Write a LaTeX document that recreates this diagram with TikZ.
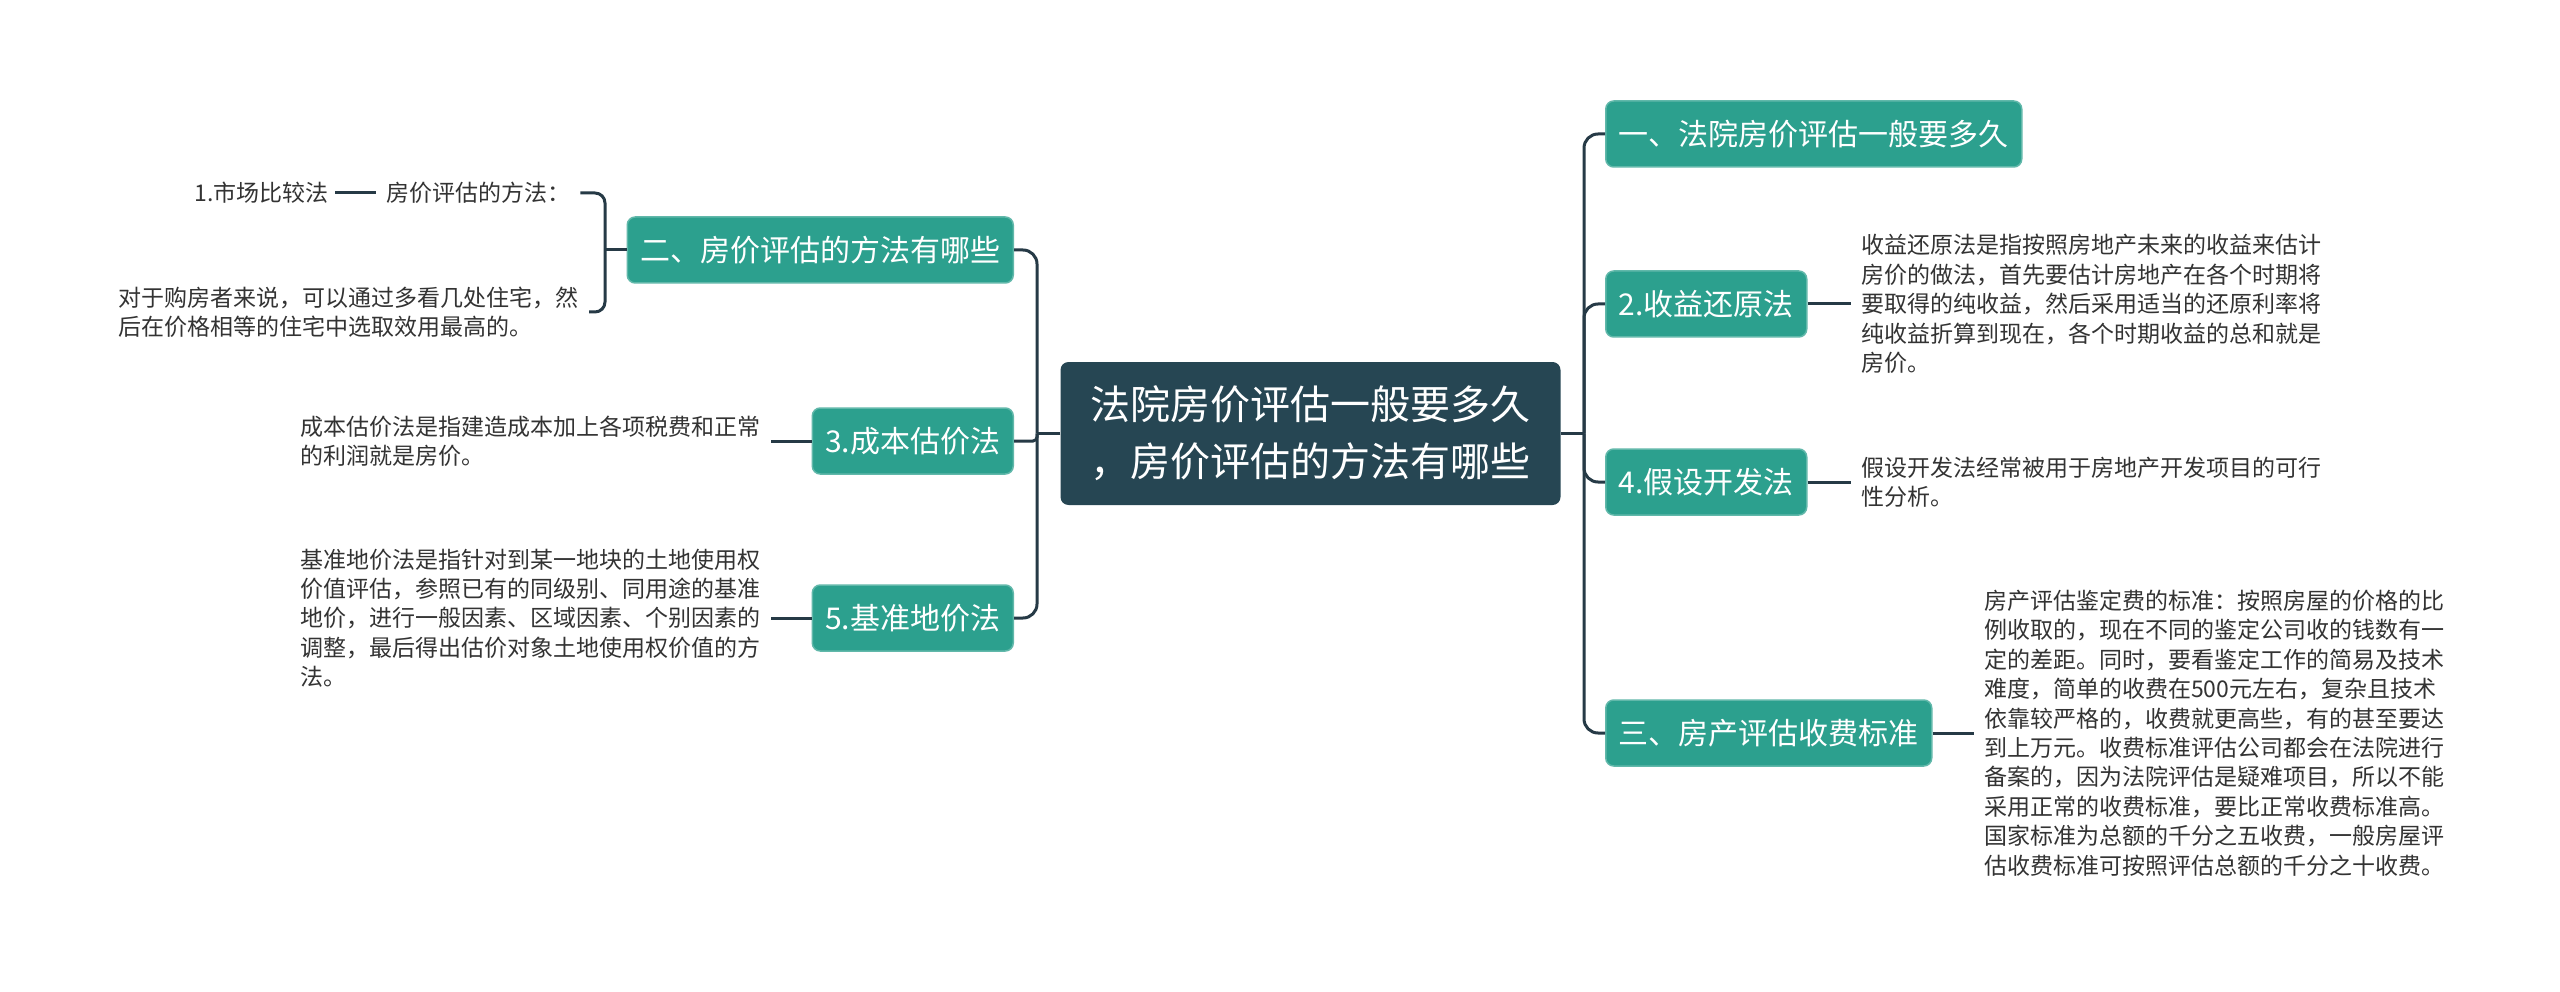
\documentclass[tikz,border=0pt]{standalone}
\usepackage{fontspec}
\usepackage{tikz}
\usetikzlibrary{calc}
\newfontfamily\cjk{Noto Sans CJK SC}
\definecolor{rootfill}{RGB}{38,70,83}
\definecolor{topicteal}{RGB}{44,160,142}
\definecolor{linkdark}{RGB}{38,58,70}
\definecolor{notegray}{RGB}{51,51,51}

\begin{document}
\begin{tikzpicture}[x=1pt,y=-1pt,
    root/.style={fill=rootfill,rounded corners=8pt,text=white,align=center,
      inner xsep=30pt,minimum height=143pt,font=\cjk\fontsize{40}{57}\selectfont},
    topic/.style={fill=topicteal,draw=topicteal!75!white,line width=1.5pt,
      rounded corners=8pt,text=white,inner xsep=13pt,minimum height=66pt,
      font=\cjk\fontsize{30}{36}\selectfont},
    note/.style={text=notegray,align=left,inner xsep=10pt,
      font=\cjk\fontsize{23}{29.4}\selectfont},
    link/.style={draw=linkdark,line width=3pt}]
  \useasboundingbox[fill=white] (0,0) rectangle (2560,992);
  % ---------- centre ----------
  \node[root] (root) at (1310.5,433.5) {法院房价评估一般要多久\\，房价评估的方法有哪些};
  % ---------- right side ----------
  \node[topic,anchor=west] (r1) at (1605,134) {一、法院房价评估一般要多久};
  \node[topic,anchor=west] (r2) at (1605,304) {2.收益还原法};
  \node[topic,anchor=west] (r3) at (1605,482) {4.假设开发法};
  \node[topic,anchor=west] (r4) at (1605,733) {三、房产评估收费标准};
  \node[note,anchor=west] (n2) at (1851,304) {收益还原法是指按照房地产未来的收益来估计\\房价的做法，首先要估计房地产在各个时期将\\要取得的纯收益，然后采用适当的还原利率将\\纯收益折算到现在，各个时期收益的总和就是\\房价。};
  \node[note,anchor=west] (n3) at (1851,482) {假设开发法经常被用于房地产开发项目的可行\\性分析。};
  \node[note,anchor=west] (n4) at (1974,733) {房产评估鉴定费的标准：按照房屋的价格的比\\例收取的，现在不同的鉴定公司收的钱数有一\\定的差距。同时，要看鉴定工作的简易及技术\\难度，简单的收费在500元左右，复杂且技术\\依靠较严格的，收费就更高些，有的甚至要达\\到上万元。收费标准评估公司都会在法院进行\\备案的，因为法院评估是疑难项目，所以不能\\采用正常的收费标准，要比正常收费标准高。\\国家标准为总额的千分之五收费，一般房屋评\\估收费标准可按照评估总额的千分之十收费。};
  % ---------- left side ----------
  \node[topic,anchor=east] (l1) at (1014,250) {二、房价评估的方法有哪些};
  \node[topic,anchor=east] (l2) at (1014,441) {3.成本估价法};
  \node[topic,anchor=east] (l3) at (1014,618) {5.基准地价法};
  \node[note,anchor=west] (m1) at (376,193) {房价评估的方法：};
  \node[note,anchor=east,inner xsep=6pt] (m0) at (335,193) {1.市场比较法};
  \node[note,anchor=east] (m2) at (589,312) {对于购房者来说，可以通过多看几处住宅，然\\后在价格相等的住宅中选取效用最高的。};
  \node[note,anchor=east] (n5) at (771,441) {成本估价法是指建造成本加上各项税费和正常\\的利润就是房价。};
  \node[note,anchor=east] (n6) at (771,618) {基准地价法是指针对到某一地块的土地使用权\\价值评估，参照已有的同级别、同用途的基准\\地价，进行一般因素、区域因素、个别因素的\\调整，最后得出估价对象土地使用权价值的方\\法。};
  % ---------- connectors ----------
  \coordinate (rt) at (1584,433.5);
  \coordinate (lt) at (1037,433.5);
  \coordinate (bk) at (605,250);
  \draw[link] (root.east) -- (rt);
  \draw[link] (root.west) -- (lt);
  \foreach \c in {r1,r2,r3,r4}
    \draw[link,rounded corners=14pt] (rt) |- (\c.west);
  \foreach \c/\r in {l1/14,l2/4,l3/14}
    \draw[link,rounded corners=\r pt] (lt) |- (\c.east);
  \draw[link] (r2.east) -- (n2.west);
  \draw[link] (r3.east) -- (n3.west);
  \draw[link] (r4.east) -- (n4.west);
  \draw[link] (l2.west) -- (n5.east);
  \draw[link] (l3.west) -- (n6.east);
  \draw[link] (l1.west) -- (bk);
  \draw[link,rounded corners=10pt] (m1.east) -| (bk) |- (m2.east);
  \draw[link] (m0.east) -- (m1.west);
\end{tikzpicture}
\end{document}
